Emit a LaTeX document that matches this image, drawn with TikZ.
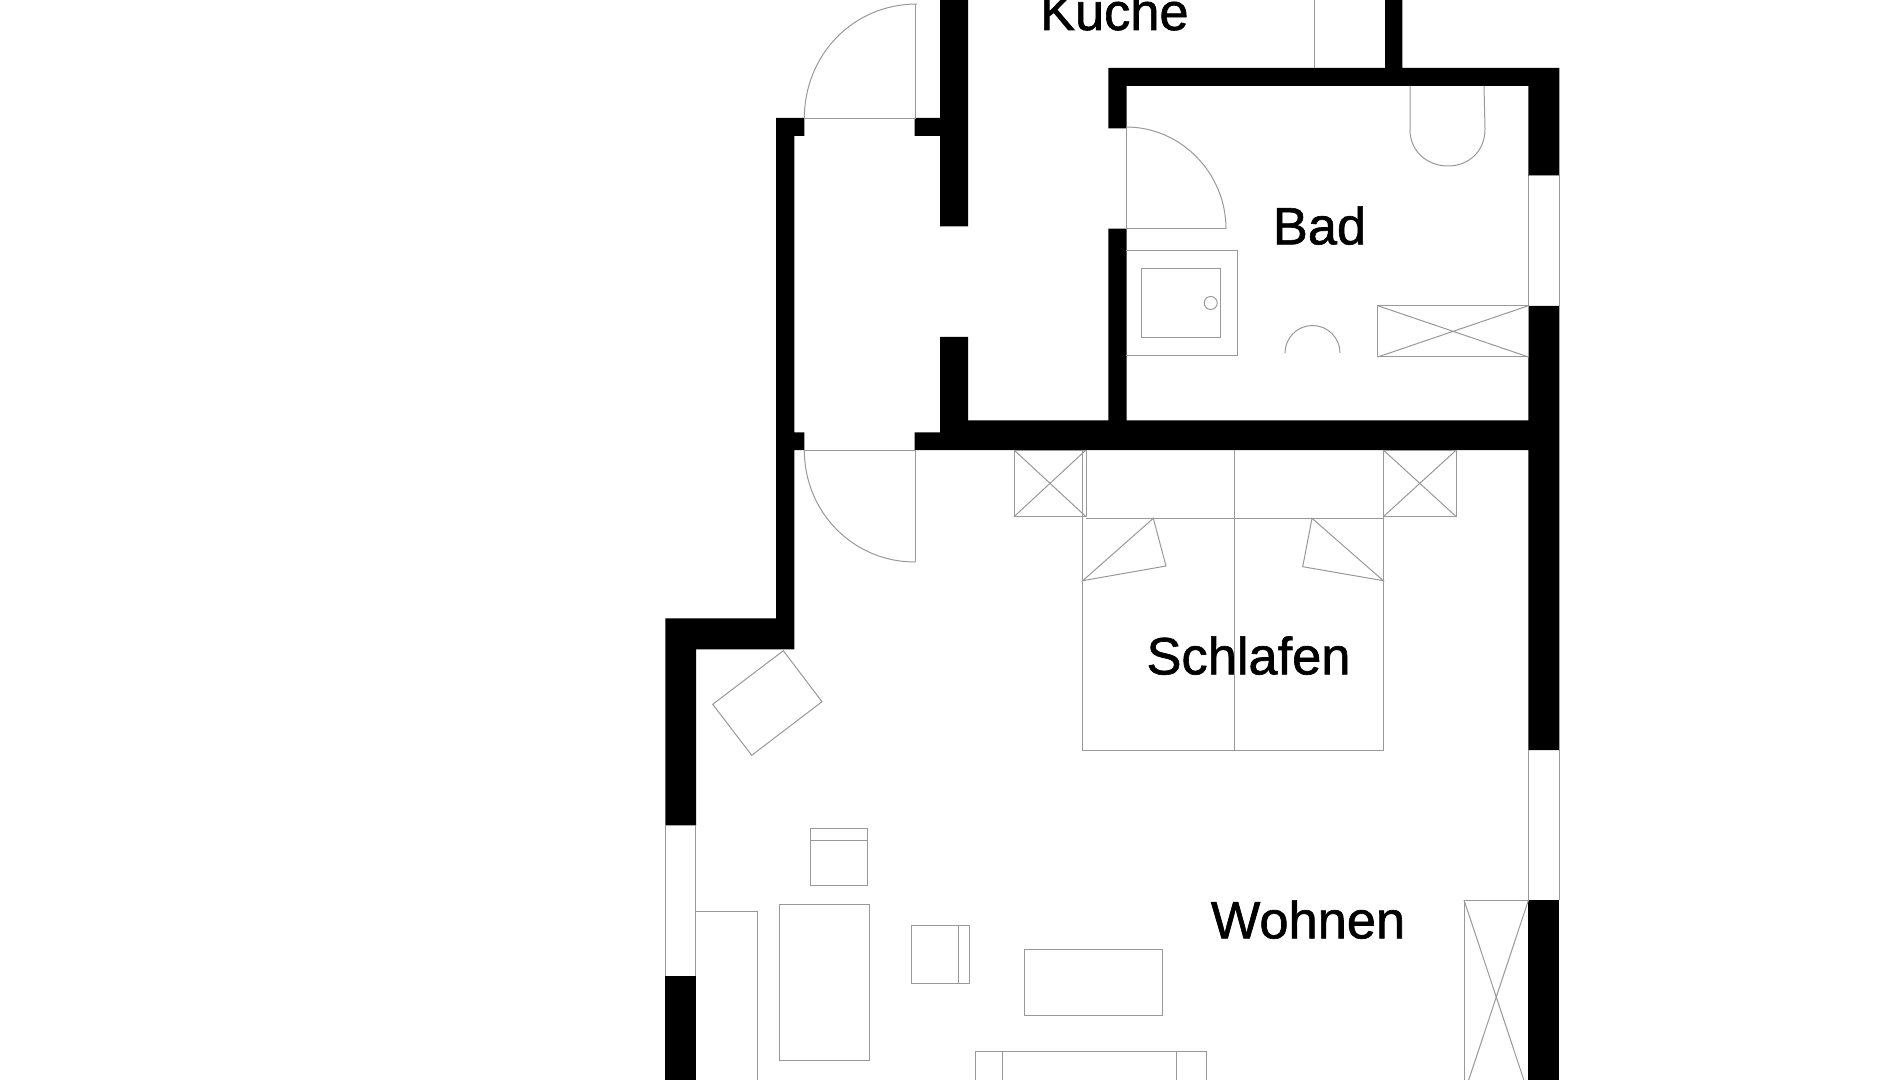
\documentclass[tikz,border=0pt]{standalone}
\usepackage{fontspec}
\setmainfont{Liberation Sans}
\newfontfamily\roomfont[FakeBold=1.2]{Liberation Sans}
\tikzset{
  wall/.style={fill=black,draw=none},
  thin line/.style={draw=black!40,line width=0.5pt,line join=miter},
  roomlabel/.style={anchor=base,inner sep=0pt,font=\roomfont\fontsize{26.2pt}{30pt}\selectfont,text=black}
}
\begin{document}
\begin{tikzpicture}[x=0.5pt,y=-0.5pt]
\useasboundingbox (0,0) rectangle (1900,1080);
\clip (0,0) rectangle (1900,1080);
\fill[white] (0,0) rectangle (1900,1080);
% walls
\fill[wall] (776,118) -- (804.3,118) -- (804.3,136) -- (794.3,136) -- (794.3,432.3) -- (804.3,432.3) -- (804.3,450) -- (794.3,450) -- (794.3,649.3) -- (696,649.3) -- (696,825.3) -- (665.3,825.3) -- (665.3,618.3) -- (776,618.3) -- cycle;
\fill[wall] (665.3,976) rectangle (696,1080);
\fill[wall] (914.5,118) -- (940,118) -- (940,0) -- (968,0) -- (968,226.5) -- (940,226.5) -- (940,136) -- (914.5,136) -- cycle;
\fill[wall] (940,337) -- (968,337) -- (968,420.3) -- (1108.3,420.3) -- (1108.3,228.7) -- (1126.7,228.7) -- (1126.7,420.3) -- (1528.3,420.3) -- (1528.3,306) -- (1559.3,306) -- (1559.3,750) -- (1528.3,750) -- (1528.3,450) -- (914.5,450) -- (914.5,432.3) -- (940,432.3) -- cycle;
\fill[wall] (1108.3,128.5) -- (1108.3,68) -- (1385,68) -- (1385,0) -- (1402.3,0) -- (1402.3,68) -- (1559.3,68) -- (1559.3,176) -- (1528.3,176) -- (1528.3,86) -- (1126.7,86) -- (1126.7,128.5) -- cycle;
\fill[wall] (1528.3,900) rectangle (1559.3,1080);
% entry door (top)
\draw[thin line] (804.3,118.5) -- (915,118.5) -- (915,4);
\draw[thin line] (804.3,118.5) .. controls (804.3,55) and (853,4) .. (917,4);
% door into living room
\draw[thin line] (804.3,450) -- (915,450) -- (915,562);
\draw[thin line] (804.3,450) .. controls (804.3,512) and (853,562) .. (915,562);
% bath door
\draw[thin line] (1126,128) -- (1126,229) -- (1226,229);
\draw[thin line] (1126,127) .. controls (1181,127) and (1226,173) .. (1226,229);
% shower
\draw[thin line] (1126,251) -- (1237.7,251) -- (1237.7,356) -- (1126,356);
\draw[thin line] (1141.7,269) rectangle (1220,338);
\draw[thin line] (1210.7,303) circle[radius=6.5];
% toilet
\draw[thin line] (1285,353) arc[start angle=180,end angle=360,radius=27.5];
% basin
\draw[thin line] (1410,86) -- (1410,130) .. controls (1410,151) and (1427,166) .. (1448,166) .. controls (1469,166) and (1485,151) .. (1485,129) -- (1484,86);
% window frames
\draw[thin line] (1528.5,176) -- (1559,176) -- (1559,306);
\draw[thin line] (1528.5,176) -- (1528.5,306);
\draw[thin line] (1528.5,750) -- (1528.5,900);
\draw[thin line] (1559,750) -- (1559,900);
\draw[thin line] (665.5,825.3) -- (665.5,976);
\draw[thin line] (695.5,825.3) -- (695.5,976);
% bath cupboard
\draw[thin line] (1377.7,305.7) rectangle (1528.5,357);
\draw[thin line] (1377.7,305.7) -- (1528.5,357) (1377.7,357) -- (1528.5,305.7);
% kitchen line
\draw[thin line] (1314,0) -- (1314,68);
% bed
\draw[thin line] (1082.7,450) -- (1082.7,750) -- (1383.3,750) -- (1383.3,450);
\draw[thin line] (1086,450) -- (1086,517);
\draw[thin line] (1086,518.3) -- (1383.3,518.3);
\draw[thin line] (1234.3,450) -- (1234.3,750);
\draw[thin line] (1082.7,580.7) -- (1153.3,518.3) -- (1166,566) -- cycle;
\draw[thin line] (1312,518.3) -- (1383.3,580.7) -- (1302.7,566.7) -- cycle;
% night stands
\draw[thin line] (1014,450) rectangle (1086,516.7);
\draw[thin line] (1014,450) -- (1086,516.7) (1014,516.7) -- (1086,450);
\draw[thin line] (1383.3,450) rectangle (1456.3,516.7);
\draw[thin line] (1383.3,450) -- (1456.3,516.7) (1383.3,516.7) -- (1456.3,450);
% chair
\draw[thin line] (783.3,650.7) -- (822,701.7) -- (751.7,755.3) -- (712.7,704.3) -- cycle;
% living furniture
\draw[thin line] (810.7,828) rectangle (867.7,885.7);
\draw[thin line] (810.7,840.7) -- (867.7,840.7);
\draw[thin line] (696,911) -- (757,911) -- (757,1085);
\draw[thin line] (779,904.7) rectangle (869,1060);
\draw[thin line] (911.3,925.7) rectangle (969.7,983.3);
\draw[thin line] (958,925.7) -- (958,983.3);
\draw[thin line] (1024.3,949.7) rectangle (1162.3,1015.3);
\draw[thin line] (975,1085) -- (975,1051.7) -- (1206,1051.7) -- (1206,1085);
\draw[thin line] (1002,1052) -- (1002,1085) (1176.7,1052) -- (1176.7,1085);
% wardrobe
\draw[thin line] (1528.5,900) -- (1464,900) -- (1464,1085);
\draw[thin line] (1464,900) -- (1528.5,1094) (1528.5,900) -- (1464,1094);
% labels
\node[roomlabel] (kueche) at (1114.3,30) {Kuche};
\node[roomlabel] (bad) at (1319.5,244.3) {Bad};
\node[roomlabel] (schlafen) at (1248.5,674.3) {Schlafen};
\node[roomlabel] (wohnen) at (1308,938.3) {Wohnen};
\end{tikzpicture}
\end{document}
